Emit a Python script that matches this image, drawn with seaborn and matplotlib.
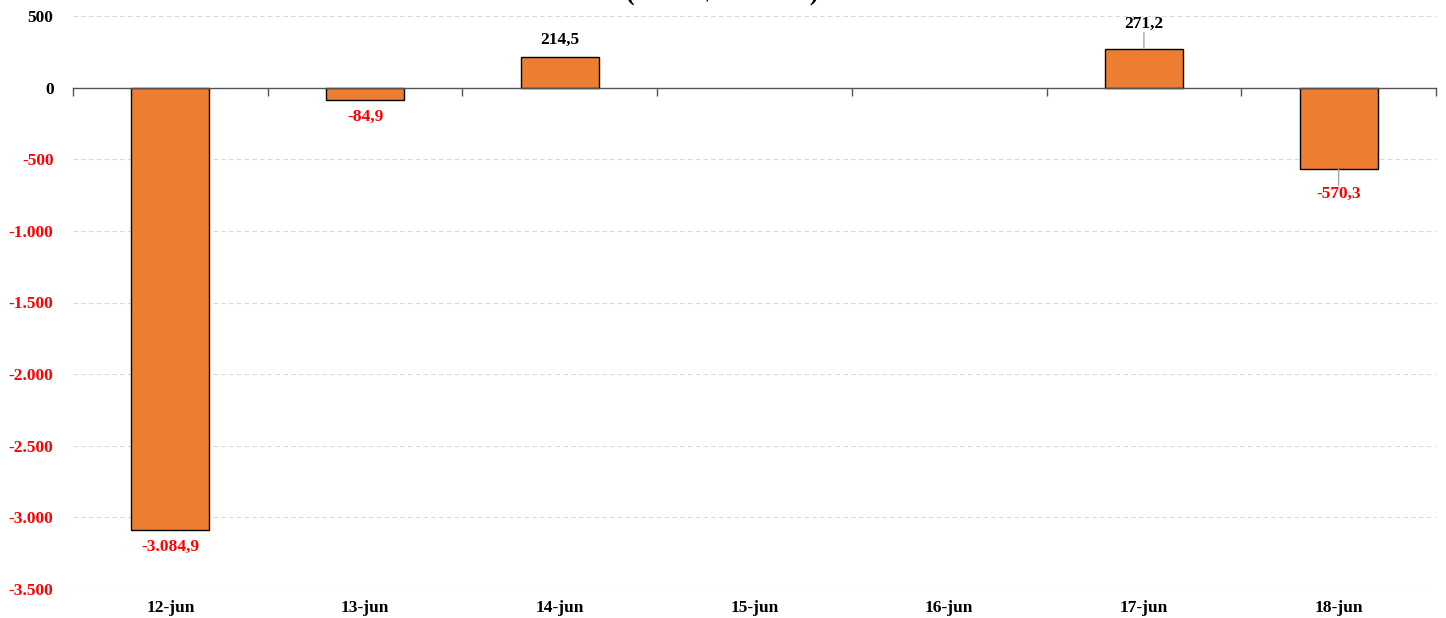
import numpy as np
import pandas as pd
import matplotlib
matplotlib.use("Agg")
import matplotlib.pyplot as plt
import matplotlib.transforms as mtransforms
import seaborn as sns

categories = ["12-jun", "13-jun", "14-jun", "15-jun", "16-jun", "17-jun", "18-jun"]
values = [-3084.9, -84.9, 214.5, np.nan, np.nan, 271.2, -570.3]
yticks = [500, 0, -500, -1000, -1500, -2000, -2500, -3000, -3500]
title = "( em R$ Milhões)"

sns.set_theme(style="white")
plt.rcParams['font.family'] = ['Liberation Serif', 'DejaVu Serif']

df = pd.DataFrame({"dia": categories, "valor": values})

fig = plt.figure(figsize=(14.46, 6.18), dpi=100)
ax = fig.add_axes([73/1446, 1 - 589/618, (1436-73)/1446, (589-16)/618])

sns.barplot(data=df, x="dia", y="valor", order=categories, color="#ED7D31",
            saturation=1, width=0.4, edgecolor="black", linewidth=1, ax=ax)

ax.set_ylim(-3500, 500)
ax.set_xlim(-0.5, len(categories) - 0.5)
ax.set_xlabel("")
ax.set_ylabel("")

# gridlines
ax.set_yticks(yticks)
ax.yaxis.grid(True, color="#d9d9d9", linestyle=(0, (4, 3)), linewidth=0.8)
ax.set_axisbelow(True)

def fmt(v):
    s = f"{abs(v):,.0f}".replace(",", ".")
    return ("-" if v < 0 else "") + s

ax.set_yticklabels([fmt(v) for v in yticks], fontweight="bold", fontsize=12.5)
for lab, v in zip(ax.get_yticklabels(), yticks):
    lab.set_color("red" if v < 0 else "black")
ax.tick_params(axis="y", length=0, pad=14)

for s in ["left", "right", "top"]:
    ax.spines[s].set_visible(False)
ax.spines["bottom"].set_position(("data", 0))
ax.spines["bottom"].set_color("#555555")
ax.spines["bottom"].set_linewidth(1)
ax.set_xticks(np.arange(len(categories)))
ax.set_xticklabels([])
ax.tick_params(axis="x", which="major", length=0)
ax.set_xticks(np.arange(len(categories) + 1) - 0.5, minor=True)
ax.tick_params(axis="x", which="minor", bottom=True, length=6, color="#555555",
               direction="out", width=1)

trans = mtransforms.blended_transform_factory(ax.transData, ax.transAxes)
for i, c in enumerate(categories):
    ax.text(i, -0.034, c, transform=trans, ha="center", va="center",
            fontweight="bold", fontsize=12.5, color="black")

# data labels
leader = {"17-jun", "18-jun"}
for i, (c, v) in enumerate(zip(categories, values)):
    if np.isnan(v):
        continue
    txt = f"{v:,.1f}".replace(",", "X").replace(".", ",").replace("X", ".")
    col = "red" if v < 0 else "black"
    sign = 1 if v >= 0 else -1
    off = 25 if c in leader else 17
    ax.annotate(txt, xy=(i, v), xytext=(0, sign * off), textcoords="offset pixels",
                ha="center", va="center", fontweight="bold", fontsize=12.5, color=col)
    if c in leader:
        ax.annotate("", xy=(i, v), xytext=(0, sign * (off - 9)), textcoords="offset pixels",
                    arrowprops=dict(arrowstyle="-", color="#a6a6a6", lw=1, shrinkA=0, shrinkB=0))

fig.text(722/1446, 1.0, title, ha="center", va="baseline",
         fontweight="bold", fontsize=19, color="black")

fig.savefig("out.png", dpi=100)
